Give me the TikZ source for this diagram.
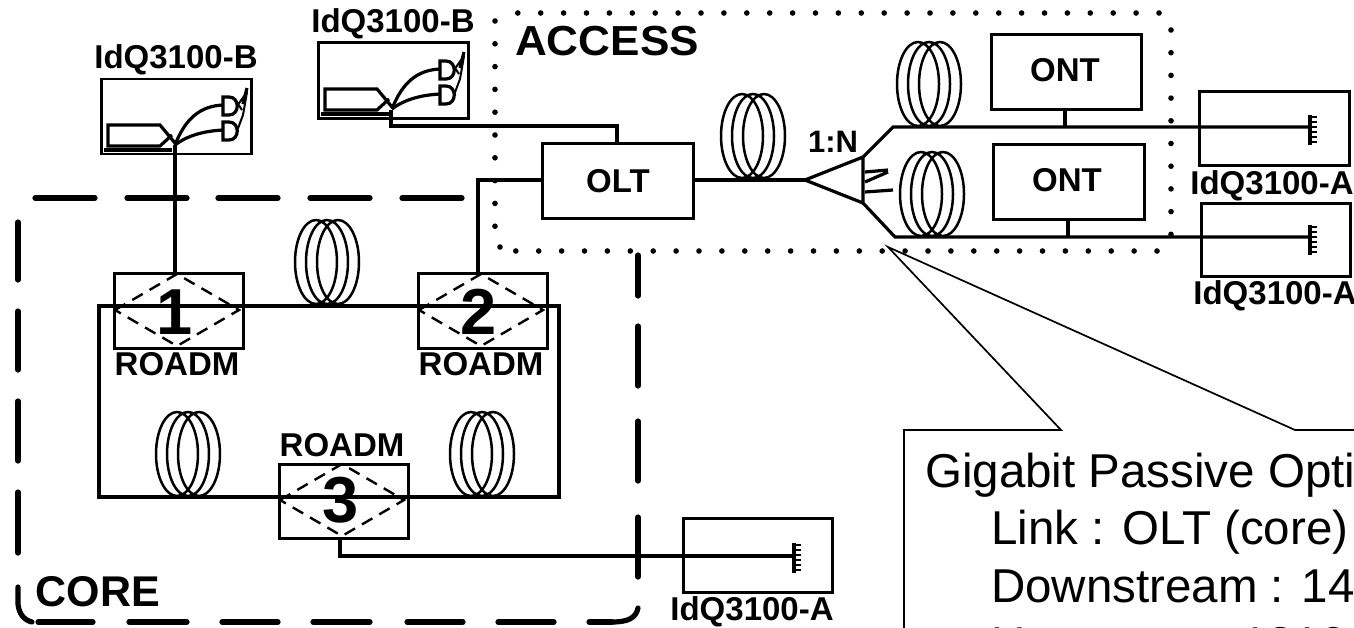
\documentclass[tikz,border=0pt]{standalone}
\usepackage{fontspec}
\usetikzlibrary{calc}
\setmainfont{Liberation Sans}
\newcommand{\fsz}[1]{\fontsize{#1}{#1}\selectfont}
\tikzset{
 wire/.style={line width=3.2pt,line join=miter},
 devbox/.style={draw,line width=2.8pt,rectangle,inner sep=0pt,anchor=north west},
 lab/.style={font=\fsz{33}\bfseries,inner sep=0pt},
 bigdash/.style={line width=5.2pt,line cap=round},
 diamonddash/.style={line width=2.4pt,dash pattern=on 12pt off 8pt},
 thin line/.style={line width=1.7pt},
 dotmark/.style={fill=black,draw=none}
}
% coil: three shifted ellipses sitting on a fibre
\newcommand{\coil}[2]{\foreach \o in {-11,0,11}{\draw[line width=2.5pt] (#1+\o,#2) ellipse (21 and 42);}}
% transmitter drawing inside an IdQ3100-B box, given its top left corner
\newcommand{\txinner}[2]{\begin{scope}[shift={(#1,#2)}]
 \draw[wire] (75,66) -- (60,48) -- (8,48) -- (8,69) -- (60,69) -- (72,58);
 \draw[wire] (4,73) -- (72,73);
 \draw[wire] (75,68) .. controls (85,42) and (100,29) .. (123,28);
 \draw[wire] (75,68) .. controls (88,58) and (105,54) .. (123,53);
 \draw[wire] (123,20) -- (129,20) .. controls (140,20) and (140,38) .. (129,38) -- (123,38) -- cycle;
 \draw[wire] (123,45) -- (129,45) .. controls (140,45) and (140,63) .. (129,63) -- (123,63) -- cycle;
 \draw[line width=2pt] (137,29) -- (147,15);
 \draw[line width=2pt] (137,54) -- (143,38) -- (147,15);
 \draw[line width=2pt] (134,21) -- (142,33);
 \draw[line width=3.2pt] (147,11) -- (143,27);
 \end{scope}}
% detector ground
\newcommand{\gnd}[2]{\draw[wire] (#1,#2-15) -- (#1,#2+15);
 \foreach \d in {-13,-8,-3,2,7,12}{\draw[line width=1.3pt] (#1,#2+\d) -- (#1+7,#2+\d);}}
\begin{document}
\begin{tikzpicture}[x=1pt,y=-1pt]
\useasboundingbox (0,0) rectangle (1354,627);
\clip (0,0) rectangle (1354,627);
% ACCESS dotted frame
\foreach \k in {0,...,28}{\fill[dotmark] (1159-22.9*\k,13) circle (2.8);}
\foreach \k in {0,...,28}{\fill[dotmark] (1157-22.9*\k,251) circle (2.8);}
\foreach \k in {0,...,9}{\fill[dotmark] (1171,30+22.7*\k) circle (2.8);}
\foreach \k in {0,...,9}{\fill[dotmark] (495,21+22.8*\k) circle (2.8);}
\fill[dotmark] (500,247) circle (2.8);
% CORE dashed frame
\foreach \a/\b in {35/95,127/187,218/278,310/370,402/462}{\draw[bigdash] (\a,198) -- (\b,198);}
\foreach \a/\b in {38/93,129/187,222/278,313/370,407/463,498/554,589/612}{\draw[bigdash] (\a,622) -- (\b,622);}
\draw[bigdash] (612,622) .. controls (628,622) and (636,618) .. (638,608);
\foreach \a/\b in {222/280,311/370,401/461,492/553}{\draw[bigdash] (18,\a) -- (18,\b);}
\draw[bigdash] (18,587) -- (18,604) .. controls (19,614) and (24,620) .. (32,622);
\foreach \a/\b in {255/296,326/386,421/481,517/577}{\draw[bigdash] (638,\a) -- (638,\b);}
\node[font=\fsz{43}\bfseries,inner sep=0pt] (corelab) at (98,592) {CORE};
\node[font=\fsz{42}\bfseries,inner sep=0pt,xscale=1.05] (accesslab) at (607,41) {ACCESS};
% boxes
\node[devbox,minimum width=150pt,minimum height=75pt] (txa) at (100,77.5) {};
\node[devbox,minimum width=150pt,minimum height=76pt] (txb) at (317,41) {};
\node[devbox,minimum width=129pt,minimum height=75pt] (r1) at (113,272) {};
\node[devbox,minimum width=129pt,minimum height=75pt] (r2) at (417,272) {};
\node[devbox,minimum width=129pt,minimum height=74pt] (r3) at (278,463) {};
\node[devbox,minimum width=151pt,minimum height=75pt] (olt) at (541,142) {};
\node[devbox,minimum width=150pt,minimum height=75pt] (ont1) at (990,33) {};
\node[devbox,minimum width=151pt,minimum height=75pt] (ont2) at (992,143) {};
\node[devbox,minimum width=150pt,minimum height=74pt] (rxa) at (1198,90) {};
\node[devbox,minimum width=149pt,minimum height=73pt] (rxb) at (1200,202) {};
\node[devbox,minimum width=149pt,minimum height=74pt] (rxc) at (682,517) {};
\node[lab] at (olt.center) {OLT};
\node[lab] at (1065,70) {ONT};
\node[lab] at (1067,180) {ONT};
% labels
\node[lab] (ltxa) at (176,60) {IdQ3100-B};
\node[lab] (ltxb) at (393,24) {IdQ3100-B};
\node[lab] (lrxa) at (1272,186) {IdQ3100-A};
\node[lab] (lrxb) at (1275,296) {IdQ3100-A};
\node[lab] (lrxc) at (752,612) {IdQ3100-A};
\node[lab] (lr1) at (177,364) {ROADM};
\node[lab] (lr2) at (481,364) {ROADM};
\node[lab] (lr3) at (342,445) {ROADM};
\node[font=\fsz{31}\bfseries,inner sep=0pt] (lsp) at (833,142) {1:N};
% transmitters
\txinner{100}{77}
\txinner{317}{41}
% ROADM diamonds and numbers
\coordinate (d1) at (177,310);
\coordinate (d2) at (481,310);
\coordinate (d3) at (342,500);
\foreach \c in {d1,d2,d3}{\draw[diamonddash] ($(\c)+(-62,0)$) -- ($(\c)+(0,-36)$) -- ($(\c)+(62,0)$) -- ($(\c)+(0,36)$) -- cycle;}
\node[font=\fsz{65}\bfseries,inner sep=0pt] at (175,312) {1};
\node[font=\fsz{65}\bfseries,inner sep=0pt] at (479,312) {2};
\node[font=\fsz{65}\bfseries,inner sep=0pt] at (341,500) {3};
% coils
\coil{327}{262}
\coil{188}{454}
\coil{482}{454}
\coil{753}{136}
\coil{929}{84}
\coil{932}{194}
% ring
\coordinate (rtl) at (99,306);
\coordinate (rtr) at (559,306);
\coordinate (rbr) at (559,497);
\coordinate (rbl) at (99,497);
\draw[wire] (rtl) -- (rtr) -- (rbr) -- (rbl) -- cycle;
% connectors
\coordinate (txaout) at (175,145);
\coordinate (r1in) at (175,272);
\draw[wire] (txaout) -- (r1in);
\coordinate (txbout) at (391,110);
\coordinate (txbcor) at (391,126);
\coordinate (oltin) at (617,142);
\draw[wire] (txbout) -- (txbcor) -- (oltin |- txbcor) -- (oltin);
\coordinate (r2up) at (478,272);
\coordinate (oltw) at (541,180);
\draw[wire] (r2up) -- (r2up |- oltw) -- (oltw);
% splitter
\coordinate (spa) at (805,180);
\coordinate (spb) at (863,157);
\coordinate (spc) at (863,203);
\draw[wire] (spa) -- (spb) -- (spc) -- cycle;
\coordinate (olte) at (692,180);
\draw[wire] (olte) -- (spa);
\coordinate (g1) at (1310,127);
\coordinate (g2) at (1310,237);
\coordinate (g3) at (794,556);
\draw[wire] (spb) -- (893,127) -- (g1);
\draw[wire] (spc) -- (895,237) -- (g2);
\draw[wire] (865,172) -- (888,170);
\draw[wire] (888,172) -- (865,182);
\draw[wire] (865,192) -- (893,190);
\coordinate (o1s) at (1065,108);
\coordinate (o1t) at (1065,127);
\coordinate (o2s) at (1068,218);
\coordinate (o2t) at (1068,237);
\draw[wire] (o1s) -- (o1t);
\draw[wire] (o2s) -- (o2t);
\coordinate (r3s) at (340,537);
\draw[wire] (r3s) -- (r3s |- g3) -- (g3);
\gnd{1310}{130}
\gnd{1310}{240}
\gnd{794}{558}
% callout
\coordinate (tip) at (888,247);
\draw[thin line,line join=miter] (904,640) -- (904,430) -- (1061,430) -- (tip) -- (1295,430) -- (1370,430);
\node[anchor=base west,font=\fsz{47.5},inner sep=0pt] (t1) at (925,487) {Gigabit Passive Opti};
\node[anchor=base west,font=\fsz{47.5},inner sep=0pt] (t2) at (991,544) {Link : OLT (core)};
\node[anchor=base west,font=\fsz{47.5},inner sep=0pt] (t3) at (991,602) {Downstream : 14};
\node[anchor=base west,font=\fsz{47.5},inner sep=0pt] (t4) at (991,660) {Upstream : 1310};
\end{tikzpicture}
\end{document}
